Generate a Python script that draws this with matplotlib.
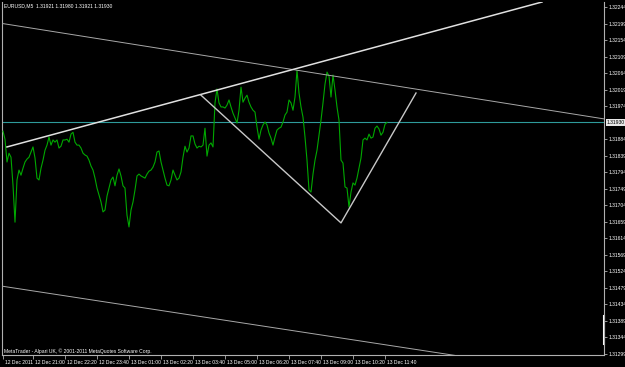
import matplotlib
matplotlib.use('Agg')
import matplotlib.pyplot as plt
import matplotlib.transforms as mtransforms

plt.rcParams['font.family'] = ['Liberation Sans', 'DejaVu Sans']

# EURUSD M5 close prices, one per bar (5 min), from 12 Dec 19:45
closes = [
    1.31906, 1.31884, 1.31822, 1.31846, 1.31835, 1.31759, 1.31658, 1.31773, 1.31800, 1.31786,
    1.31805, 1.31822, 1.31830, 1.31835, 1.31849, 1.31863, 1.31833, 1.31778, 1.31773, 1.31805,
    1.31827, 1.31854, 1.31868, 1.31890, 1.31868, 1.31882, 1.31876, 1.31882, 1.31860, 1.31865,
    1.31882, 1.31882, 1.31884, 1.31876, 1.31898, 1.31903, 1.31876, 1.31868, 1.31868, 1.31860,
    1.31846, 1.31841, 1.31838, 1.31827, 1.31811, 1.31800, 1.31778, 1.31751, 1.31732, 1.31713,
    1.31686, 1.31691, 1.31729, 1.31751, 1.31773, 1.31781, 1.31757, 1.31786, 1.31803, 1.31784,
    1.31757, 1.31751, 1.31677, 1.31645, 1.31691, 1.31713, 1.31746, 1.31784, 1.31789, 1.31784,
    1.31781, 1.31778, 1.31789, 1.31797, 1.31800, 1.31808, 1.31822, 1.31849, 1.31852, 1.31822,
    1.31800, 1.31778, 1.31759, 1.31757, 1.31773, 1.31800, 1.31786, 1.31773, 1.31778, 1.31795,
    1.31835, 1.31865, 1.31849, 1.31860, 1.31893, 1.31893, 1.31871, 1.31860, 1.31865, 1.31863,
    1.31868, 1.31914, 1.31838, 1.31868, 1.31874, 1.31863, 1.31983, 1.32021, 1.31983, 1.31972,
    1.31972, 1.31969, 1.31977, 1.31991, 1.31972, 1.31955, 1.31942, 1.31928, 1.31963, 1.32026,
    1.31985, 1.31996, 1.32004, 1.31985, 1.31972, 1.31963, 1.31958, 1.31917, 1.31884, 1.31909,
    1.31923, 1.31931, 1.31923, 1.31901, 1.31887, 1.31868, 1.31890, 1.31909, 1.31914, 1.31917,
    1.31931, 1.31950, 1.31958, 1.31991, 1.31983, 1.31963, 1.31999, 1.32072, 1.32010, 1.31972,
    1.31944, 1.31890, 1.31827, 1.31746, 1.31740, 1.31789, 1.31827, 1.31854, 1.31895, 1.31936,
    1.31983, 1.32034, 1.32067, 1.32056, 1.31999, 1.32059, 1.32018, 1.31972, 1.31936, 1.31827,
    1.31819, 1.31754, 1.31751, 1.31699, 1.31740, 1.31765, 1.31759, 1.31778, 1.31805, 1.31833,
    1.31882, 1.31887, 1.31882, 1.31898, 1.31887, 1.31890, 1.31914, 1.31920, 1.31912, 1.31895,
    1.31903, 1.31925, 1.31930,
]
bars = list(range(len(closes)))
bid = 1.31930
header = "EURUSD,M5  1.31921 1.31980 1.31921 1.31930"
footer = "MetaTrader - Alpari UK, \u00a9 2001-2011 MetaQuotes Software Corp."

# time axis labels (bar index -> label)
time_ticks = [0, 15, 31, 47, 63, 79, 95, 111, 127, 143, 159, 175, 191]
time_labels = ["12 Dec 2011", "12 Dec 21:00", "12 Dec 22:20", "12 Dec 23:40",
               "13 Dec 01:00", "13 Dec 02:20", "13 Dec 03:40", "13 Dec 05:00",
               "13 Dec 06:20", "13 Dec 07:40", "13 Dec 09:00", "13 Dec 10:20",
               "13 Dec 11:40"]

price_ticks = [1.32244, 1.32199, 1.32154, 1.32109, 1.32064, 1.32019, 1.31974,
               1.31884, 1.31839, 1.31794, 1.31749, 1.31704, 1.31659, 1.31614,
               1.31569, 1.31524, 1.31479, 1.31434, 1.31389, 1.31344, 1.31299]

# trend lines drawn on the chart: (bar, price) end points
channel_top = [(-1, 1.32200), (301, 1.31939)]
channel_bottom = [(-1, 1.31484), (227, 1.31294)]
support_line = [(2, 1.31863), (269.5, 1.32258)]
wedge = [(99, 1.32004), (169, 1.31656), (206.5, 1.32010)]

W, H = 625, 367
fs = 3.6
fig = plt.figure(figsize=(W / 100, H / 100), dpi=100, facecolor='black')
ax = fig.add_axes([2 / W, 1 - 355 / H, 602 / W, 353 / H], facecolor='black')

ax.plot(bars, closes, color='#00a800', lw=0.8, zorder=3)
ax.axhline(bid, color='#2e9a9a', lw=0.8, zorder=2)

ax.plot(*zip(*channel_top), color='#a8a8a8', lw=0.7, zorder=4)
ax.plot(*zip(*channel_bottom), color='#a8a8a8', lw=0.7, zorder=4)
ax.plot(*zip(*support_line), color='#e0e0e0', lw=1.1, zorder=4)
ax.plot(*zip(*wedge), color='#c8c8c8', lw=1.0, zorder=4)

ax.set_xlim(-0.5, 300.5)
ax.set_ylim(1.31296, 1.32258)

ax.spines['top'].set_visible(False)
for side in ['left', 'right', 'bottom']:
    ax.spines[side].set_color('#b0b0b0')
    ax.spines[side].set_linewidth(0.8)

ax.yaxis.tick_right()
ax.set_yticks(price_ticks)
ax.set_yticklabels(["%.5f" % p for p in price_ticks])
ax.tick_params(axis='y', colors='#b0b0b0', labelcolor='white', labelsize=fs,
               length=2, width=0.6, pad=1)

ax.set_xticks(time_ticks)
ax.set_xticklabels(time_labels)
ax.tick_params(axis='x', colors='#b0b0b0', labelcolor='white', labelsize=fs,
               length=3, width=0.6, pad=0.8)
shift = mtransforms.ScaledTranslation(2 / 100, 0, fig.dpi_scale_trans)
for lab in ax.get_xticklabels():
    lab.set_horizontalalignment('left')
    lab.set_transform(lab.get_transform() + shift)

# current price box on the scale
ax.text(1.004, bid, "%.5f" % bid, transform=ax.get_yaxis_transform(),
        fontsize=fs, color='black', va='center', ha='left',
        bbox=dict(boxstyle='square,pad=0.15', fc='#e8e8e8', ec='none'), zorder=6)

# small marker on the right border
ax.axvline(300.5, ymin=0.03, ymax=0.11, color='white', lw=1.5, clip_on=False)

ax.text(0.004, 0.995, header, transform=ax.transAxes, fontsize=fs,
        color='white', va='top', ha='left')
ax.text(0.004, 0.003, footer, transform=ax.transAxes, fontsize=fs,
        color='white', va='bottom', ha='left')

fig.savefig('out.png', dpi=100, facecolor='black')
